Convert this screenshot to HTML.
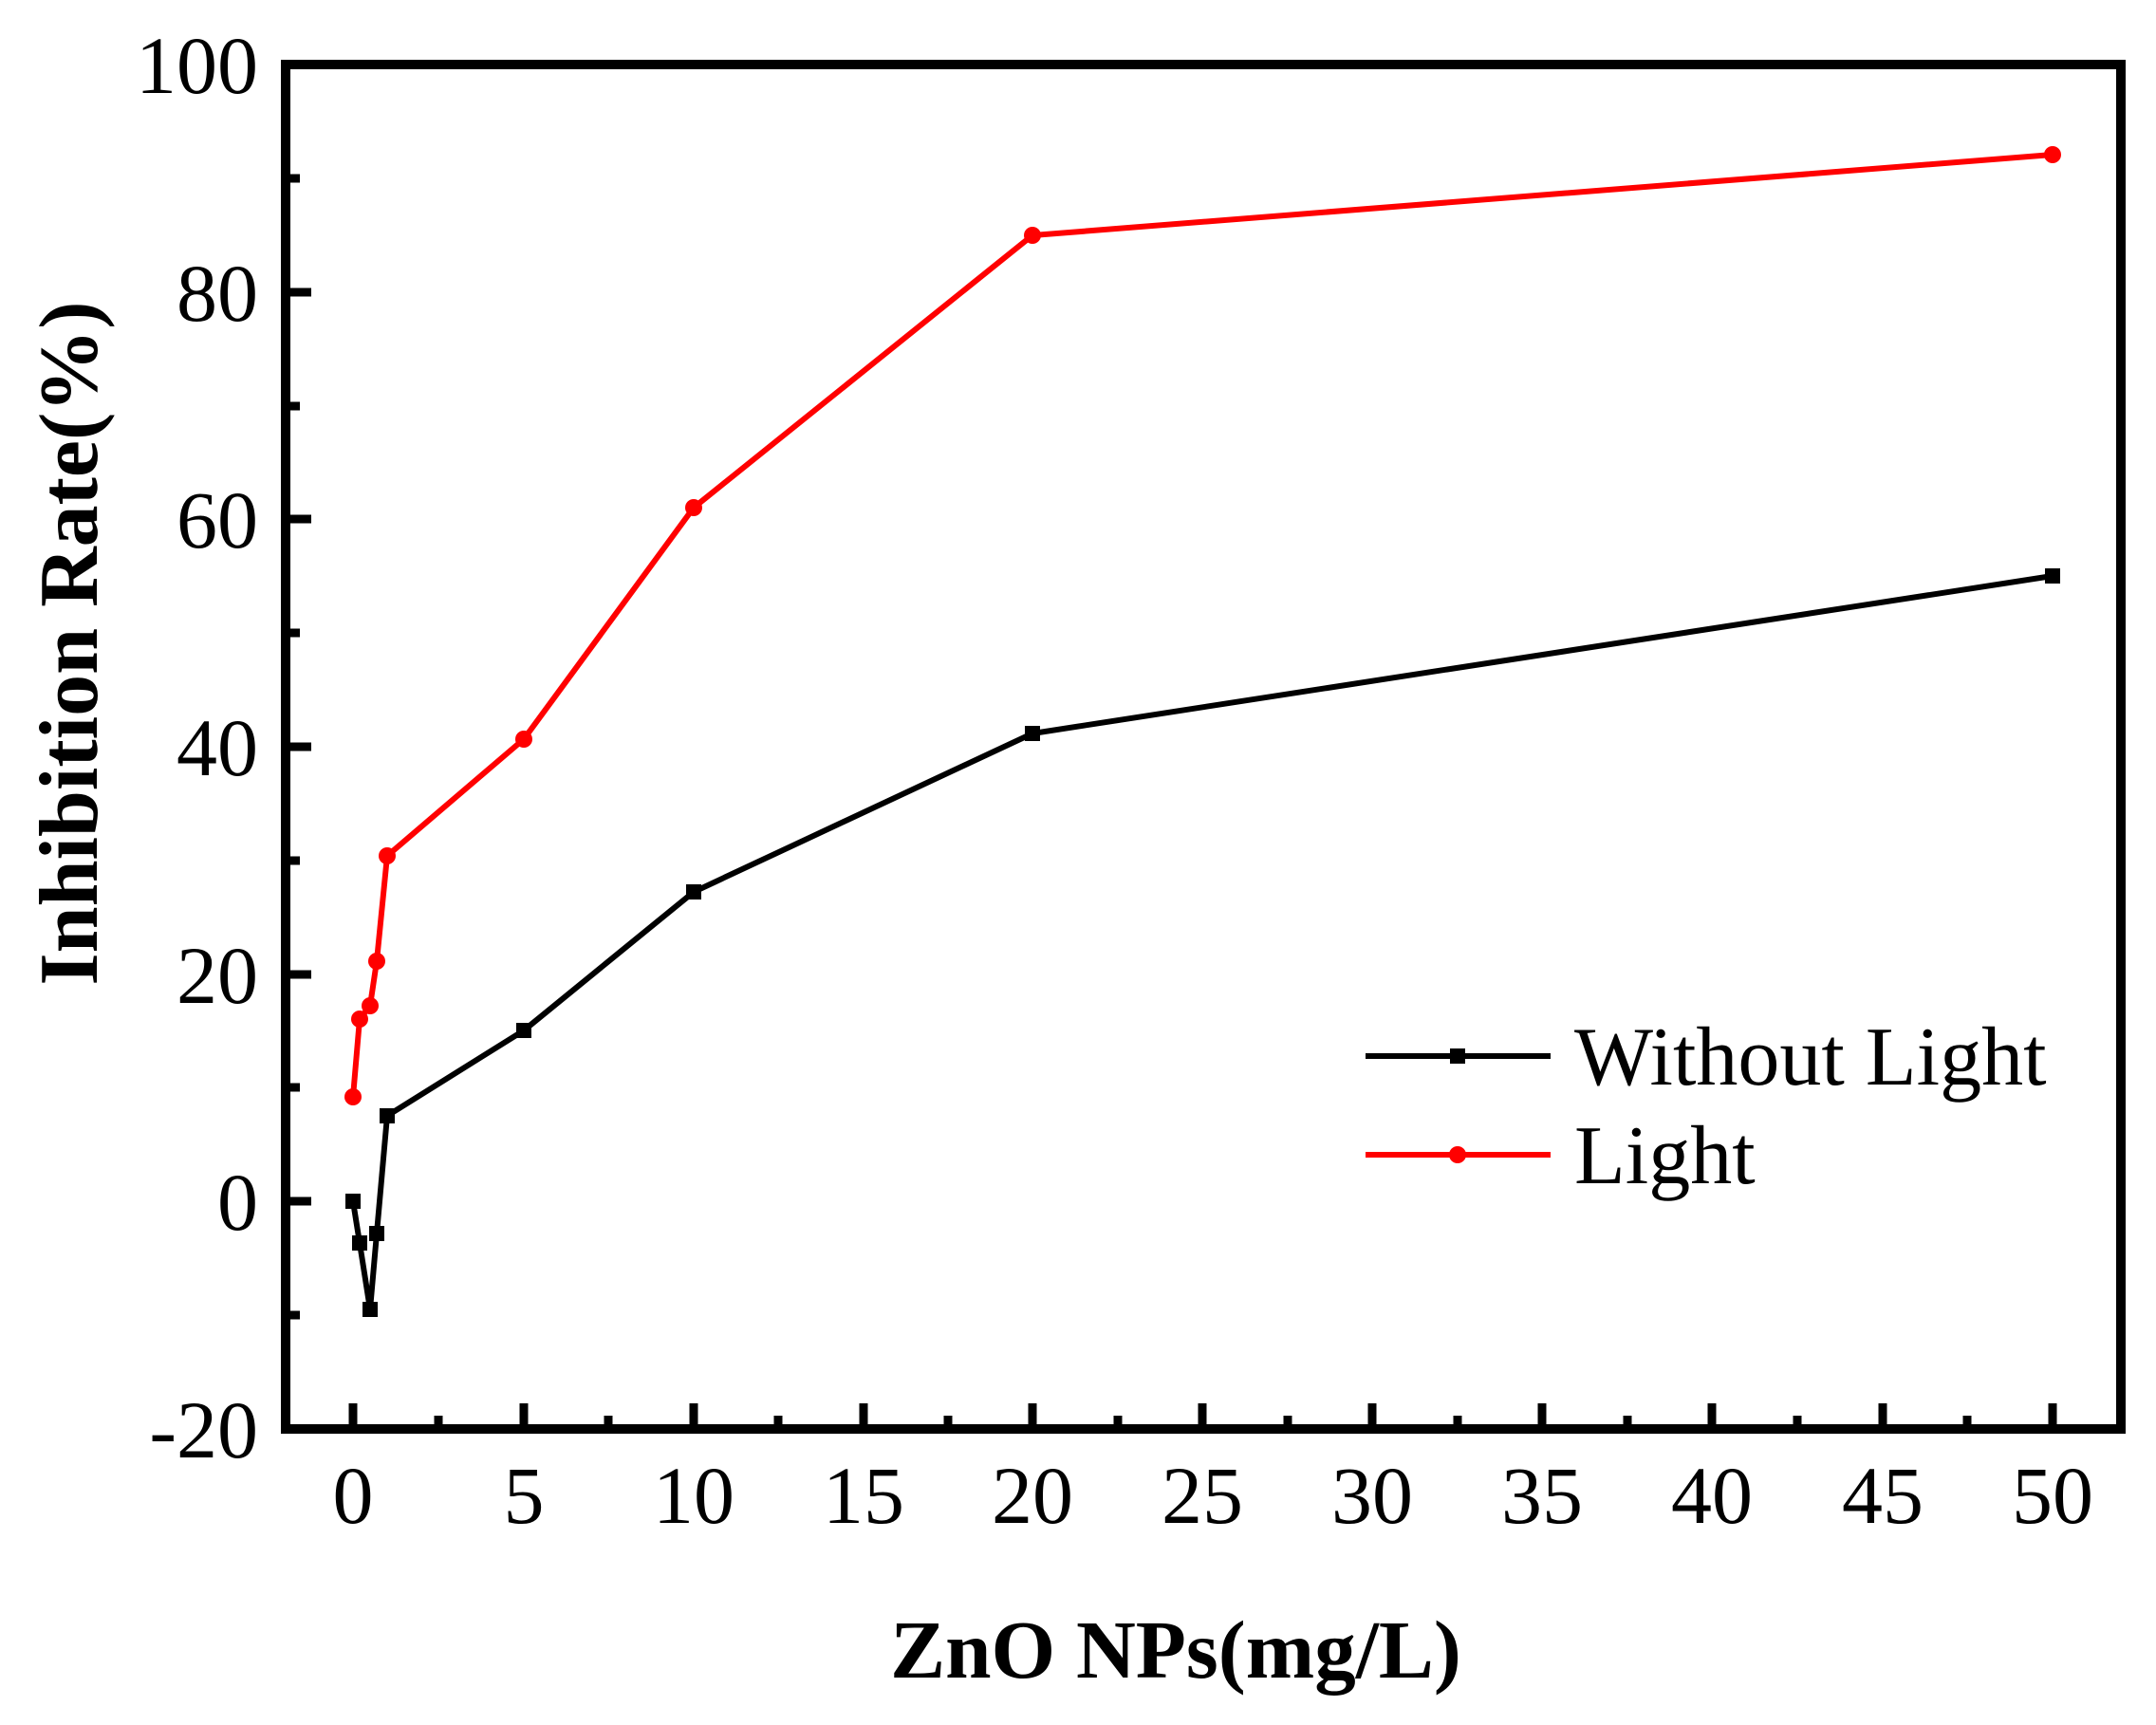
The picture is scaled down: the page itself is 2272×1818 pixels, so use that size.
<!DOCTYPE html>
<html><head><style>body{margin:0;background:#fff}</style></head><body>
<svg width="2272" height="1813" xmlns="http://www.w3.org/2000/svg" font-family="Liberation Serif, serif">
<rect width="2272" height="1813" fill="#fff"/>
<g stroke="#000" stroke-width="10">
<rect x="301" y="68" width="1934" height="1438" fill="none"/>
</g>
<g stroke="#000" stroke-width="9">
<line x1="372" y1="1502" x2="372" y2="1479"/><line x1="552" y1="1502" x2="552" y2="1479"/>
<line x1="731" y1="1502" x2="731" y2="1479"/><line x1="910" y1="1502" x2="910" y2="1479"/>
<line x1="1088" y1="1502" x2="1088" y2="1479"/><line x1="1267" y1="1502" x2="1267" y2="1479"/>
<line x1="1446" y1="1502" x2="1446" y2="1479"/><line x1="1625" y1="1502" x2="1625" y2="1479"/>
<line x1="1804" y1="1502" x2="1804" y2="1479"/><line x1="1984" y1="1502" x2="1984" y2="1479"/>
<line x1="2163" y1="1502" x2="2163" y2="1479"/>
<line x1="462" y1="1502" x2="462" y2="1492"/><line x1="641" y1="1502" x2="641" y2="1492"/>
<line x1="820" y1="1502" x2="820" y2="1492"/><line x1="999" y1="1502" x2="999" y2="1492"/>
<line x1="1178" y1="1502" x2="1178" y2="1492"/><line x1="1357" y1="1502" x2="1357" y2="1492"/>
<line x1="1536" y1="1502" x2="1536" y2="1492"/><line x1="1715" y1="1502" x2="1715" y2="1492"/>
<line x1="1894" y1="1502" x2="1894" y2="1492"/><line x1="2073" y1="1502" x2="2073" y2="1492"/>
<line x1="305" y1="1266" x2="328" y2="1266"/><line x1="305" y1="1027" x2="328" y2="1027"/>
<line x1="305" y1="787" x2="328" y2="787"/><line x1="305" y1="547" x2="328" y2="547"/>
<line x1="305" y1="308" x2="328" y2="308"/>
<line x1="305" y1="1386" x2="316" y2="1386"/><line x1="305" y1="1146" x2="316" y2="1146"/>
<line x1="305" y1="907" x2="316" y2="907"/><line x1="305" y1="667" x2="316" y2="667"/>
<line x1="305" y1="428" x2="316" y2="428"/><line x1="305" y1="188" x2="316" y2="188"/>
</g>
<g font-size="86" text-anchor="middle">
<text x="372" y="1605">0</text><text x="552" y="1605">5</text><text x="731" y="1605">10</text>
<text x="910" y="1605">15</text><text x="1088" y="1605">20</text><text x="1267" y="1605">25</text>
<text x="1446" y="1605">30</text><text x="1625" y="1605">35</text><text x="1804" y="1605">40</text>
<text x="1984" y="1605">45</text><text x="2163" y="1605">50</text>
</g>
<g font-size="86" text-anchor="end">
<text x="272" y="1536">-20</text><text x="272" y="1296">0</text><text x="272" y="1057">20</text>
<text x="272" y="817">40</text><text x="272" y="577">60</text><text x="272" y="338">80</text>
<text x="272" y="98">100</text>
</g>
<text x="1239" y="1768" font-size="87" font-weight="bold" text-anchor="middle">ZnO NPs(mg/L)</text>
<text transform="translate(102,678) rotate(-90)" font-size="88" font-weight="bold" text-anchor="middle">Inhibition Rate(%)</text>
<polyline fill="none" stroke="#000" stroke-width="6" points="372,1266 379,1310 390,1380 397,1300 408,1176 552,1086 731,940 1088,773 2163,607"/>
<g fill="#000">
<rect x="364" y="1258" width="16" height="16"/><rect x="371" y="1302" width="16" height="16"/>
<rect x="382" y="1372" width="16" height="16"/><rect x="389" y="1292" width="16" height="16"/>
<rect x="400" y="1168" width="16" height="16"/><rect x="544" y="1078" width="16" height="16"/>
<rect x="723" y="932" width="16" height="16"/><rect x="1080" y="765" width="16" height="16"/>
<rect x="2155" y="599" width="16" height="16"/>
</g>
<polyline fill="none" stroke="#f00" stroke-width="6" points="372,1156 379,1074 390,1060 397,1013 408,902 552,779 731,535 1088,248 2163,163"/>
<g fill="#f00">
<circle cx="372" cy="1156" r="9"/><circle cx="379" cy="1074" r="9"/><circle cx="390" cy="1060" r="9"/>
<circle cx="397" cy="1013" r="9"/><circle cx="408" cy="902" r="9"/><circle cx="552" cy="779" r="9"/>
<circle cx="731" cy="535" r="9"/><circle cx="1088" cy="248" r="9"/><circle cx="2163" cy="163" r="9"/>
</g>
<line x1="1439" y1="1113" x2="1634" y2="1113" stroke="#000" stroke-width="6"/>
<rect x="1528" y="1105" width="16" height="16" fill="#000"/>
<line x1="1439" y1="1217" x2="1634" y2="1217" stroke="#f00" stroke-width="6"/>
<circle cx="1536" cy="1217" r="9" fill="#f00"/>
<g font-size="88"><text x="1659" y="1143">Without Light</text><text x="1659" y="1247">Light</text></g>
</svg>
</body></html>
